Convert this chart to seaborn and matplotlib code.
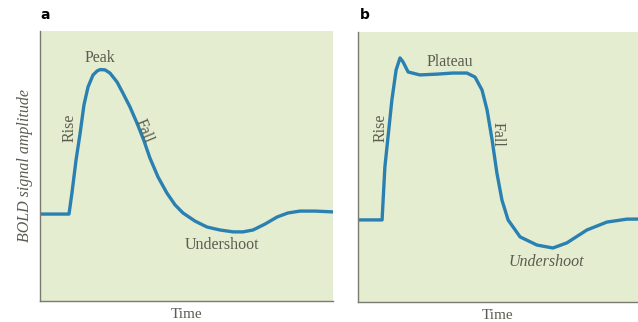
import matplotlib
matplotlib.use("Agg")
import matplotlib.pyplot as plt
import seaborn as sns
import pandas as pd

# Panel a: transient BOLD response (time, amplitude in arbitrary units)
time_a = [0, 9.9, 10.9, 12.3, 13.7, 15.0, 16.4, 18.1, 19.5, 20.5, 22.2, 23.9, 26.3, 28.3,
          30.7, 33.1, 35.5, 37.5, 40.3, 43.3, 46.1, 48.8, 52.9, 57.0, 61.4, 65.9,
          69.3, 72.7, 76.8, 80.9, 84.6, 88.7, 93.9, 100]
amp_a = [32.2, 32.2, 40.0, 52.2, 62.2, 72.6, 79.3, 83.7, 85.2, 85.7, 85.6, 84.4, 81.1, 77.0,
         71.9, 65.9, 59.3, 53.0, 45.9, 40.0, 35.6, 32.6, 29.6, 27.4, 26.3, 25.6,
         25.6, 26.3, 28.5, 31.1, 32.6, 33.3, 33.3, 33.0]

# Panel b: sustained BOLD response
time_b = [0, 8.6, 9.6, 12.1, 13.6, 15.0, 16.1, 17.9, 22.1, 28.2, 33.9, 38.9, 41.8,
          44.3, 46.1, 47.9, 49.6, 51.4, 53.6, 57.9, 63.9, 69.6, 74.6, 81.8, 88.9,
          96.1, 100]
amp_b = [30.4, 30.4, 50.0, 74.8, 85.9, 90.4, 88.9, 85.2, 84.1, 84.4, 84.8, 84.8, 83.3,
         78.5, 71.1, 60.0, 47.8, 37.8, 30.4, 24.1, 21.1, 20.0, 21.9, 26.7, 29.6,
         30.7, 30.7]

panel_letters = ["a", "b"]
x_label = "Time"
y_label = "BOLD signal amplitude"

sns.set_theme(style="white")
plt.rcParams["font.family"] = ["Liberation Serif", "DejaVu Serif"]

bg = "#e4edcf"
line_c = "#2b80b2"
text_c = "#5c5c50"
spine_c = "#7a7a72"

fig = plt.figure(figsize=(6.38, 3.22), dpi=100)
ax_a = fig.add_axes([40/638, 21/322, 293/638, 270/322])
ax_b = fig.add_axes([358/638, 20/322, 280/638, 270/322])

df_a = pd.DataFrame({"t": time_a, "y": amp_a})
df_b = pd.DataFrame({"t": time_b, "y": amp_b})

for ax, df in [(ax_a, df_a), (ax_b, df_b)]:
    ax.set_facecolor(bg)
    sns.lineplot(data=df, x="t", y="y", ax=ax, sort=False, color=line_c,
                 linewidth=2.4, solid_capstyle="round", solid_joinstyle="round")
    ax.set_xlim(0, 100)
    ax.set_ylim(0, 100)
    ax.set_xticks([])
    ax.set_yticks([])
    for s in ["top", "right"]:
        ax.spines[s].set_visible(False)
    for s in ["left", "bottom"]:
        ax.spines[s].set_color(spine_c)
        ax.spines[s].set_linewidth(1.0)
    ax.set_xlabel(x_label, fontsize=11, color=text_c, labelpad=5)
    ax.set_ylabel("")

ax_a.set_ylabel(y_label, fontsize=11.5, color=text_c, style="italic", labelpad=5)

fs = 11.5
# Panel a annotations
ax_a.text(20.5, 90, "Peak", ha="center", va="center", fontsize=fs, color=text_c)
ax_a.text(10.0, 64, "Rise", ha="center", va="center", fontsize=fs, color=text_c, rotation=90)
ax_a.text(35.5, 63, "Fall", ha="center", va="center", fontsize=fs, color=text_c, rotation=-68)
ax_a.text(62.1, 20.7, "Undershoot", ha="center", va="center", fontsize=fs, color=text_c)

# Panel b annotations
ax_b.text(32.9, 88.9, "Plateau", ha="center", va="center", fontsize=fs, color=text_c)
ax_b.text(8.0, 64.4, "Rise", ha="center", va="center", fontsize=fs, color=text_c, rotation=90)
ax_b.text(49.7, 62, "Fall", ha="center", va="center", fontsize=fs, color=text_c, rotation=-90)
ax_b.text(67.1, 14.8, "Undershoot", ha="center", va="center", fontsize=fs, color=text_c,
          style="italic")

fig.text(40/638, 1 - 15/322, panel_letters[0], fontsize=10, fontweight="bold",
         family="DejaVu Sans", color="black", va="center", ha="left")
fig.text(360/638, 1 - 15/322, panel_letters[1], fontsize=10, fontweight="bold",
         family="DejaVu Sans", color="black", va="center", ha="left")

fig.savefig("out.png", dpi=100, facecolor="white")
